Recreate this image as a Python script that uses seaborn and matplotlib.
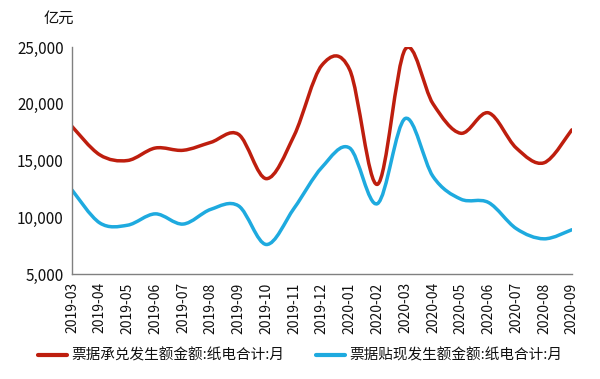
import numpy as np
import pandas as pd
import seaborn as sns
import matplotlib.pyplot as plt
from matplotlib.path import Path
from matplotlib.patches import PathPatch
from matplotlib.lines import Line2D

months = ["2019-03", "2019-04", "2019-05", "2019-06", "2019-07", "2019-08", "2019-09",
          "2019-10", "2019-11", "2019-12", "2020-01", "2020-02", "2020-03", "2020-04",
          "2020-05", "2020-06", "2020-07", "2020-08", "2020-09"]
accept = [18000, 15500, 15000, 16100, 15900, 16600, 17300, 13400, 17200, 23400,
          23000, 12900, 24800, 20000, 17400, 19200, 16100, 14800, 17700]
discount = [12400, 9500, 9300, 10300, 9400, 10700, 11000, 7600, 10800, 14400,
            16100, 11200, 18700, 13600, 11600, 11300, 9000, 8100, 8900]
names = ["票据承兑发生额金额:纸电合计:月", "票据贴现发生额金额:纸电合计:月"]
colors = ["#BE1E0E", "#1EAADF"]

sns.set_style("white")
plt.rcParams["font.family"] = ["Noto Sans CJK SC", "DejaVu Sans"]
plt.rcParams["text.color"] = "#111111"
plt.rcParams["xtick.color"] = "#111111"
plt.rcParams["ytick.color"] = "#111111"

df = pd.DataFrame({
    "month": months * 2,
    "value": accept + discount,
    "series": [names[0]] * len(months) + [names[1]] * len(months),
})

fig = plt.figure(figsize=(6, 3.79), dpi=100)
ax = fig.add_axes([0.12, 0.277, 0.833, 0.599])
sns.lineplot(data=df, x="month", y="value", hue="series", palette=colors,
             legend=False, ax=ax, sort=False)


def smooth_path(xs, ys):
    # Excel-like smoothing: Catmull-Rom segments as cubic beziers
    pts = np.column_stack([xs, ys]).astype(float)
    n = len(pts)
    verts = [pts[0]]
    codes = [Path.MOVETO]
    for i in range(n - 1):
        p0 = pts[i - 1] if i > 0 else pts[i]
        p1 = pts[i]
        p2 = pts[i + 1]
        p3 = pts[i + 2] if i + 2 < n else pts[i + 1]
        c1 = p1 + (p2 - p0) / 6
        c2 = p2 - (p3 - p1) / 6
        verts += [c1, c2, p2]
        codes += [Path.CURVE4] * 3
    return Path(verts, codes)


for line, col in zip(ax.lines, colors):
    xy = line.get_xydata()
    patch = PathPatch(smooth_path(xy[:, 0], xy[:, 1]), facecolor="none",
                      edgecolor=col, lw=2.5, capstyle="round", joinstyle="round")
    ax.add_patch(patch)
    line.set_visible(False)

ax.set_xlim(0, len(months) - 1)
ax.set_ylim(5000, 25000)
ax.set_yticks([5000, 10000, 15000, 20000, 25000])
ax.set_yticklabels([f"{v:,}" for v in [5000, 10000, 15000, 20000, 25000]], fontsize=11)
ax.set_xticks(range(len(months)))
ax.set_xticklabels(months, rotation=90, fontsize=10)
ax.set_xlabel("")
ax.set_ylabel("")
for s in ["top", "right"]:
    ax.spines[s].set_visible(False)
for s in ["left", "bottom"]:
    ax.spines[s].set_color("#808080")
    ax.spines[s].set_linewidth(1.0)
ax.tick_params(axis="both", which="major", direction="out", length=4,
               color="#808080", width=1.0, pad=2)

fig.text(0.072, 0.952, "亿元", fontsize=11, ha="left", va="center")

handles = [Line2D([], [], color=c, lw=3) for c in colors]
fig.legend(handles, names, loc="center", bbox_to_anchor=(0.5, 0.062), ncol=2,
           frameon=False, fontsize=10.5, handlelength=2.0, columnspacing=2.2,
           handletextpad=0.25)

fig.savefig("out.png", dpi=100)
